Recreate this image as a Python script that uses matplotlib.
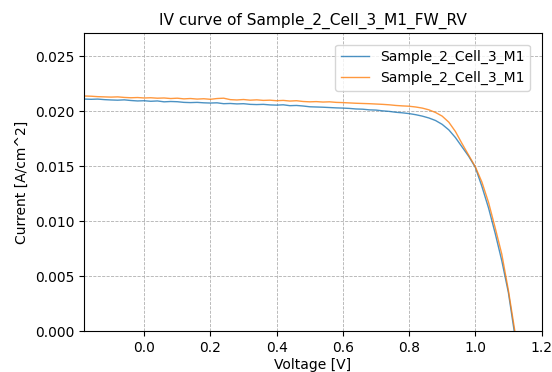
import numpy as np
import matplotlib
matplotlib.use("Agg")
import matplotlib.pyplot as plt

sample_name = "Sample_2_Cell_3_M1"

# voltage sweep [V], same for both scans
voltage = np.round(np.arange(-0.18, 1.1201, 0.02), 2)

# current density, mA/cm^2
current_fw_ma = [
    21.10, 21.08, 21.10, 21.05, 21.02, 21.00, 21.03, 20.97, 20.93, 20.95,
    20.90, 20.93, 20.85, 20.88, 20.86, 20.80, 20.78, 20.80, 20.76, 20.74,
    20.76, 20.68, 20.70, 20.66, 20.68, 20.62, 20.60, 20.62, 20.57, 20.55,
    20.58, 20.50, 20.52, 20.47, 20.40, 20.38, 20.36, 20.33, 20.30, 20.28,
    20.25, 20.20, 20.18, 20.12, 20.10, 20.03, 19.98, 19.90, 19.85, 19.78,
    19.68, 19.55, 19.38, 19.15, 18.80, 18.30, 17.60, 16.75, 15.90, 14.90,
    13.15, 11.20, 8.90, 6.40, 3.50, -0.50,
]
current_rv_ma = [
    21.38, 21.36, 21.32, 21.30, 21.28, 21.30, 21.25, 21.22, 21.24, 21.20,
    21.22, 21.18, 21.20, 21.15, 21.18, 21.12, 21.15, 21.10, 21.13, 21.08,
    21.15, 21.18, 21.05, 21.02, 21.06, 21.00, 21.03, 20.98, 21.00, 20.95,
    20.98, 20.92, 20.95, 20.88, 20.85, 20.87, 20.83, 20.85, 20.80, 20.78,
    20.75, 20.72, 20.70, 20.68, 20.65, 20.62, 20.58, 20.52, 20.48, 20.45,
    20.38, 20.28, 20.12, 19.88, 19.55, 19.00, 18.15, 17.05, 16.00, 14.95,
    13.55, 11.70, 9.40, 7.00, 3.70, -0.10,
]

current_fw = np.array(current_fw_ma) / 1000.0
current_rv = np.array(current_rv_ma) / 1000.0

fig = plt.figure(figsize=(5.52, 3.72), dpi=100)
ax = fig.add_axes([0.152, 0.110, 0.829, 0.801])

ax.plot(voltage, current_fw, color="tab:blue", linewidth=1.0, alpha=0.8,
        label=sample_name)
ax.plot(voltage, current_rv, color="tab:orange", linewidth=1.0, alpha=0.8,
        label=sample_name)

ax.set_xlim(-0.182, 1.2)
ax.set_ylim(0, 0.0271)
ax.set_xticks([0.0, 0.2, 0.4, 0.6, 0.8, 1.0, 1.2])
ax.grid(True, linestyle="--", color="#b0b0b0", linewidth=0.6)

ax.set_title(f"IV curve of {sample_name}_FW_RV", fontsize=11.1)
ax.set_xlabel("Voltage [V]", fontsize=10, labelpad=2)
ax.set_ylabel("Current [A/cm^2]", fontsize=10)
ax.tick_params(labelsize=10)
ax.legend(loc="upper right", fontsize=10, bbox_to_anchor=(0.99, 0.985))

fig.savefig("out.png", dpi=100)
